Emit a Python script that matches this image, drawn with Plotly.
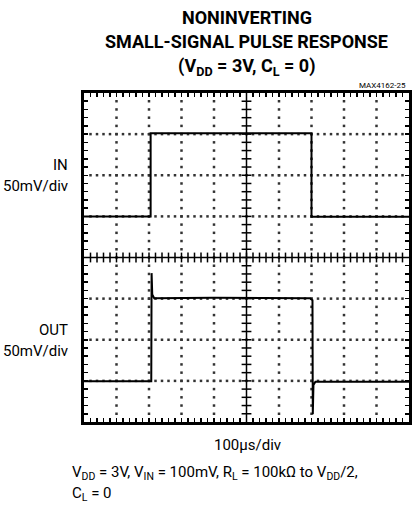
import numpy as np
import plotly.graph_objects as go

# ---- data (in screen divisions: x 0..10 div of 100us, y 0..8 div of 50mV) ----
time_in = [0.0, 2.05, 2.05, 7.00, 7.00, 10.0]
in_div = [5.00, 5.00, 7.02, 7.02, 4.99, 4.99]

time_out = [0.0, 2.07, 2.08, 2.10, 2.16, 4.0, 6.95, 7.03, 7.04, 7.06, 7.12, 10.0]
out_div = [0.99, 0.99, 3.62, 3.10, 3.01, 3.02, 3.01, 2.96, 0.19, 0.90, 0.98, 0.98]

title_lines = ["NONINVERTING", "SMALL-SIGNAL PULSE RESPONSE",
               "(V<sub>DD</sub> = 3V, C<sub>L</sub> = 0)"]
channel_labels = [("IN", "50mV/div", 6.0), ("OUT", "50mV/div", 2.0)]
x_label = "100µs/div"
cond_lines = ["V<sub>DD</sub> = 3V, V<sub>IN</sub> = 100mV, R<sub>L</sub> = 100kΩ to V<sub>DD</sub>/2,",
              "C<sub>L</sub> = 0"]
fig_id = "MAX4162-25"

NX, NY = 10, 8
FONT = "Liberation Sans Narrow, Roboto, sans-serif"

fig = go.Figure()

# dotted graticule
sub = np.round(np.arange(0.2, NY, 0.2), 3)
gx, gy = [], []
for xv in range(1, NX):
    if xv == NX // 2:
        continue
    for yv in sub:
        gx.append(xv); gy.append(yv)
subx = np.round(np.arange(0.2, NX, 0.2), 3)
for yv in range(1, NY):
    if yv == NY // 2:
        continue
    for xv in subx:
        gx.append(xv); gy.append(yv)
fig.add_trace(go.Scatter(x=gx, y=gy, mode="markers",
                         marker=dict(symbol="square", size=2.5, color="#333"),
                         hoverinfo="skip", showlegend=False))

# center cross lines
fig.add_shape(type="line", x0=0, x1=NX, y0=NY / 2, y1=NY / 2,
              line=dict(color="black", width=1.5))
fig.add_shape(type="line", x0=NX / 2, x1=NX / 2, y0=0, y1=NY,
              line=dict(color="black", width=1.5))
tx = np.round(np.arange(0.2, NX, 0.2), 3)
fig.add_trace(go.Scatter(x=tx, y=[NY / 2] * len(tx), mode="markers",
                         marker=dict(symbol="line-ns", size=7,
                                     line=dict(color="black", width=1.5)),
                         hoverinfo="skip", showlegend=False))
ty = np.round(np.arange(0.2, NY, 0.2), 3)
fig.add_trace(go.Scatter(x=[NX / 2] * len(ty), y=ty, mode="markers",
                         marker=dict(symbol="line-ew", size=7,
                                     line=dict(color="black", width=1.5)),
                         hoverinfo="skip", showlegend=False))

# traces
fig.add_trace(go.Scatter(x=time_in, y=in_div, mode="lines",
                         line=dict(color="black", width=2), showlegend=False))
fig.add_trace(go.Scatter(x=time_out, y=out_div, mode="lines",
                         line=dict(color="black", width=2), showlegend=False))

axis_common = dict(showline=True, linecolor="black", linewidth=3, mirror="allticks",
                   ticks="inside", ticklen=4, tickwidth=1.5, tickcolor="black",
                   showticklabels=False, showgrid=False, zeroline=False, dtick=1,
                   minor=dict(dtick=0.2, ticks="inside", ticklen=4, tickwidth=1.5,
                              tickcolor="black", showgrid=False))
fig.update_xaxes(range=[0, NX], tick0=0, **axis_common)
fig.update_yaxes(range=[0, NY], tick0=0, **axis_common)

annotations = []
L, R, T, B, W, H = 84, 5, 93, 83, 417, 505
pw, ph = W - L - R, H - T - B


def px_to_paper(xp, yp):
    return (xp - L) / pw, 1 - (yp - T) / ph


for i, t in enumerate(title_lines):
    x, y = px_to_paper(248, 17 + 25 * i)
    annotations.append(dict(x=x, y=y, xref="paper", yref="paper", text="<b>" + t + "</b>",
                             showarrow=False, xanchor="center", yanchor="middle",
                             font=dict(family=FONT, size=18, color="black")))
x, y = px_to_paper(411, 85)
annotations.append(dict(x=x, y=y, xref="paper", yref="paper", text=fig_id,
                        showarrow=False, xanchor="right", yanchor="middle",
                        font=dict(family=FONT, size=8, color="black")))
for name, scale, ydiv in channel_labels:
    ypx = T + (NY - ydiv) * ph / NY
    for txt, off in ((name, -10), (scale, 11)):
        x, y = px_to_paper(70, ypx + off)
        annotations.append(dict(x=x, y=y, xref="paper", yref="paper", text=txt,
                                showarrow=False, xanchor="right", yanchor="middle",
                                font=dict(family=FONT, size=15, color="black")))
x, y = px_to_paper(249, 445)
annotations.append(dict(x=x, y=y, xref="paper", yref="paper", text=x_label,
                        showarrow=False, xanchor="center", yanchor="middle",
                        font=dict(family=FONT, size=15, color="black")))
for i, t in enumerate(cond_lines):
    x, y = px_to_paper(70, 473 + 21 * i)
    annotations.append(dict(x=x, y=y, xref="paper", yref="paper", text=t,
                            showarrow=False, xanchor="left", yanchor="middle",
                            font=dict(family=FONT, size=15, color="black")))

fig.update_layout(width=W, height=H, margin=dict(l=L, r=R, t=T, b=B),
                  paper_bgcolor="white", plot_bgcolor="white",
                  annotations=annotations, showlegend=False)

fig.write_html("out.html", config={"displayModeBar": False, "staticPlot": True},
               post_script="document.body.style.margin='0';document.body.style.overflow='hidden';")
